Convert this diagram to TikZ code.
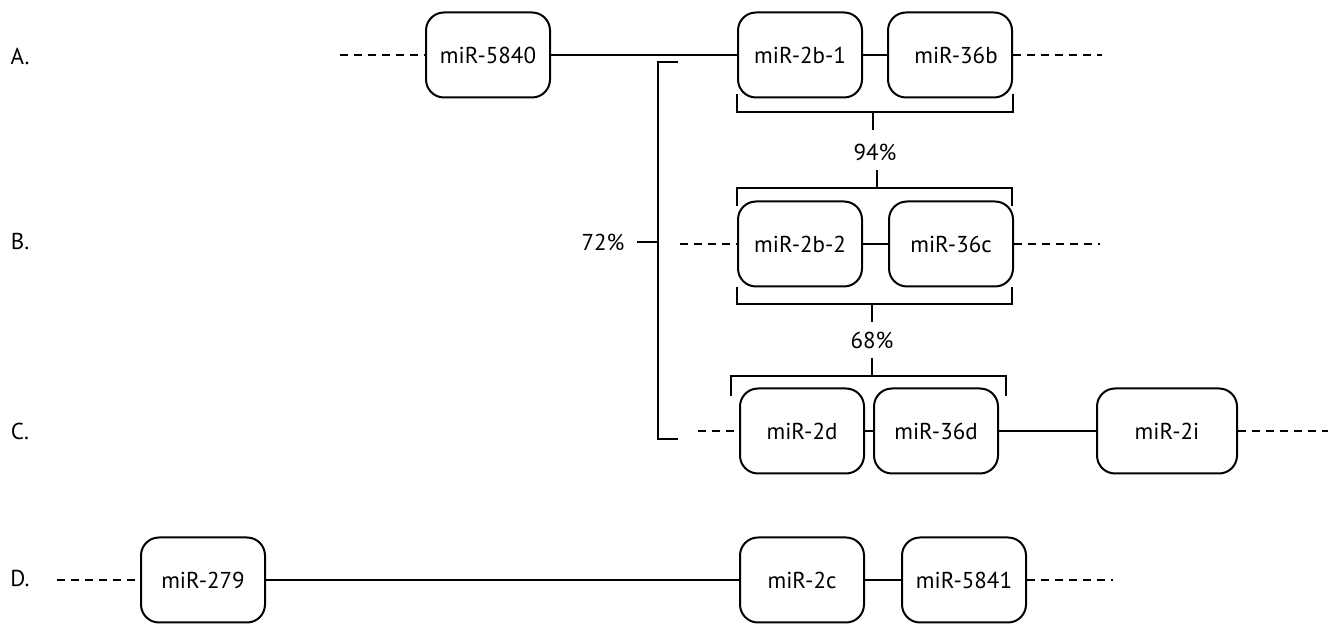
\documentclass[tikz,border=0pt]{standalone}
\usepackage{fontspec}
\setmainfont{PT Sans}
\tikzstyle{mirna}=[
        draw,
        line width=1pt,
        rounded corners=9pt,
        minimum width=62pt,
        minimum height=42.5pt,
        inner sep=0pt
]
\tikzstyle{link}=[
        line width=1pt
]
\tikzstyle{flank}=[
        line width=1pt,
        dash pattern=on 4pt off 3pt
]
\tikzstyle{bracket}=[
        line width=1pt
]

\begin{document}
\begin{tikzpicture}[x=0.5pt,y=-0.5pt,font=\fontsize{11.5}{13}\selectfont]
                        \useasboundingbox (0,0) rectangle (1328,624);

                        \node (lA) at (20,56) {A.};
                        \node (lB) at (20,242) {B.};
                        \node (lC) at (20,431) {C.};
                        \node (lD) at (20,578) {D.};

                        % cluster A
                        \node[mirna] (m5840) at (488,55) {miR-5840};
                        \node[mirna] (m2b1) at (800,55) {miR-2b-1};
                        \node[mirna] (m36b) at (950,55) {\hspace{6pt}miR-36b};
                        \coordinate (aL) at (340,55);
                        \coordinate (aR) at (1102,55);
                        \draw[flank] (aL) -- (m5840.west);
                        \draw[link] (m5840.east) -- (m2b1.west);
                        \draw[link] (m2b1.east) -- (m36b.west);
                        \draw[flank] (m36b.east) -- (aR);

                        % cluster B
                        \node[mirna] (m2b2) at (800,244) {miR-2b-2};
                        \node[mirna] (m36c) at (951,244) {miR-36c};
                        \coordinate (bL) at (680,244);
                        \coordinate (bR) at (1100,244);
                        \draw[flank] (bL) -- (m2b2.west);
                        \draw[link] (m2b2.east) -- (m36c.west);
                        \draw[flank] (m36c.east) -- (bR);

                        % cluster C
                        \node[mirna] (m2d) at (802,431) {miR-2d};
                        \node[mirna] (m36d) at (936,431) {miR-36d};
                        \node[mirna,minimum width=70pt] (m2i) at (1167,431) {miR-2i};
                        \coordinate (cL) at (698,431);
                        \coordinate (cR) at (1328,431);
                        \draw[flank] (cL) -- (m2d.west);
                        \draw[link] (m2d.east) -- (m36d.west);
                        \draw[link] (m36d.east) -- (m2i.west);
                        \draw[flank] (m2i.east) -- (cR);

                        % cluster D
                        \node[mirna] (m279) at (203,580) {miR-279};
                        \node[mirna] (m2c) at (802,580) {miR-2c};
                        \node[mirna] (m5841) at (964,580) {miR-5841};
                        \coordinate (dL) at (57,580);
                        \coordinate (dR) at (1113,580);
                        \draw[flank] (dL) -- (m279.west);
                        \draw[link] (m279.east) -- (m2c.west);
                        \draw[link] (m2c.east) -- (m5841.west);
                        \draw[flank] (m5841.east) -- (dR);

                        % identities
                        \node (p94) at (875,152) {94\%};
                        \node (p68) at (872,340) {68\%};
                        \node (p72) at (603,242) {72\%};

                        \draw[bracket] (737,94) -- (737,112) -- (1013,112) -- (1013,94);
                        \draw[bracket] (873,112) -- (873,130);
                        \draw[bracket] (877,170) -- (877,188);
                        \draw[bracket] (737,206) -- (737,188) -- (1012,188) -- (1012,206);

                        \draw[bracket] (737,287) -- (737,304) -- (1012,304) -- (1012,287);
                        \draw[bracket] (872,304) -- (872,322);
                        \draw[bracket] (872,358) -- (872,376);
                        \draw[bracket] (731,396) -- (731,376) -- (1006,376) -- (1006,396);

                        \draw[bracket] (678,62) -- (658,62) -- (658,439) -- (678,439);
                        \draw[bracket] (637,242) -- (658,242);
                    \end{tikzpicture}
\end{document}
